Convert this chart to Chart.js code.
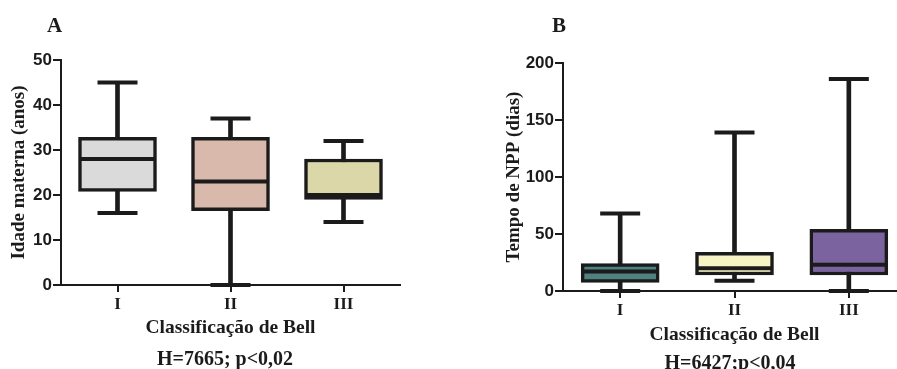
<!DOCTYPE html>
<html><head><meta charset="utf-8">
<script src="https://cdn.jsdelivr.net/npm/chart.js@4/dist/chart.umd.min.js"></script>
<style>
html,body{margin:0;padding:0;background:#fff;overflow:hidden;width:897px;height:369px;position:relative;}
.wrap{position:absolute;top:0;}
.lbl{position:absolute;font-family:"Liberation Serif","Times New Roman",serif;font-weight:bold;color:#1b1b1b;line-height:1;white-space:nowrap;}
</style></head><body>
<div class="wrap" style="left:0"><canvas id="ca" width="448" height="369"></canvas></div>
<div class="wrap" style="left:448px"><canvas id="cb" width="500" height="369"></canvas></div>
<div class="lbl" style="left:47px;top:15px;font-size:21px">A</div>
<div class="lbl" style="left:552px;top:15px;font-size:21px">B</div>
<div class="lbl" style="left:125px;width:200px;text-align:center;top:348px;font-size:20px">H=7665; p&lt;0,02</div>
<div class="lbl" style="left:630px;width:200px;text-align:center;top:352px;font-size:20px">H=6427;p&lt;0,04</div>
<script>
// ---- data ----
const categories = ['I', 'II', 'III'];

const idadeMin    = [16, 0, 14];
const idadeQ1     = [20.8, 16.5, 19];
const idadeMedian = [28, 23, 20];
const idadeQ3     = [32.8, 32.8, 28];
const idadeMax    = [45, 37, 32];
const idadeTicks  = [0, 10, 20, 30, 40, 50];
const idadeColors = ['#dadada', '#d9b9ab', '#dcd7a8'];

const nppMin    = [0, 9, 0];
const nppQ1     = [7.5, 14, 14];
const nppMedian = [17, 20, 23];
const nppQ3     = [24, 34, 54];
const nppMax    = [68, 139, 186];
const nppTicks  = [0, 50, 100, 150, 200];
const nppColors = ['#4e817f', '#f6f4c4', '#7a639f'];

const ink = '#1b1b1b';

function pointLine(data, r, order) {
  return {type: 'line', data: data, showLine: false, pointStyle: 'line',
    pointRadius: r, pointHoverRadius: r, pointBorderWidth: 4, pointHoverBorderWidth: 4,
    borderColor: ink, pointBorderColor: ink, backgroundColor: ink, order: order, clip: false};
}

function boxChart(id, mins, q1, med, q3, max, colors, ticks, yTitle, geom) {
  return new Chart(document.getElementById(id), {
    type: 'bar',
    data: {
      labels: categories,
      datasets: [
        pointLine(max, geom.cap, 0),
        pointLine(mins, geom.cap, 0),
        pointLine(med, geom.box / 2 - 1, 0),
        {type: 'bar', data: q1.map((v, i) => [v, q3[i]]), backgroundColor: colors,
          borderColor: ink, borderWidth: 3.5, borderSkipped: false, barThickness: geom.box,
          grouped: false, order: 1},
        {type: 'bar', data: mins.map((v, i) => [v, max[i]]), backgroundColor: ink,
          borderWidth: 0, barThickness: 4, grouped: false, order: 2}
      ]
    },
    options: {
      responsive: false, animation: false, events: [],
      layout: {padding: geom.pad},
      plugins: {legend: {display: false}, tooltip: {enabled: false}},
      scales: {
        x: {
          offset: true,
          grid: {offset: false, drawOnChartArea: false, tickLength: 7, lineWidth: 2, color: ink},
          border: {color: ink, width: 2},
          ticks: {color: ink, padding: 2, font: {family: 'Liberation Serif', weight: 'bold', size: 17}},
          title: {display: true, text: 'Classificação de Bell', color: ink, padding: 0,
            font: {family: 'Liberation Serif', weight: 'bold', size: 19.5}},
          afterFit: s => { s.height = geom.xh; }
        },
        y: {
          min: ticks[0], max: ticks[ticks.length - 1],
          afterBuildTicks: s => { s.ticks = ticks.map(v => ({value: v})); },
          grid: {drawOnChartArea: false, tickLength: 8, lineWidth: 2, color: ink},
          border: {color: ink, width: 2},
          ticks: {color: ink, padding: 1, font: {family: 'Liberation Sans', weight: 'bold', size: 17}},
          title: {display: true, text: yTitle, color: ink, padding: 0,
            font: {family: 'Liberation Serif', weight: 'bold', size: 19}},
          afterFit: s => { s.width = geom.yw; }
        }
      }
    }
  });
}

boxChart('ca', idadeMin, idadeQ1, idadeMedian, idadeQ3, idadeMax, idadeColors, idadeTicks,
  'Idade materna (anos)',
  {pad: {left: 8, right: 48, top: 60, bottom: 29}, yw: 53, xh: 55, box: 78, cap: 20});

boxChart('cb', nppMin, nppQ1, nppMedian, nppQ3, nppMax, nppColors, nppTicks,
  'Tempo de NPP (dias)',
  {pad: {left: 55, right: 40, top: 63, bottom: 22}, yw: 60, xh: 56, box: 78, cap: 20});
</script>
</body></html>
